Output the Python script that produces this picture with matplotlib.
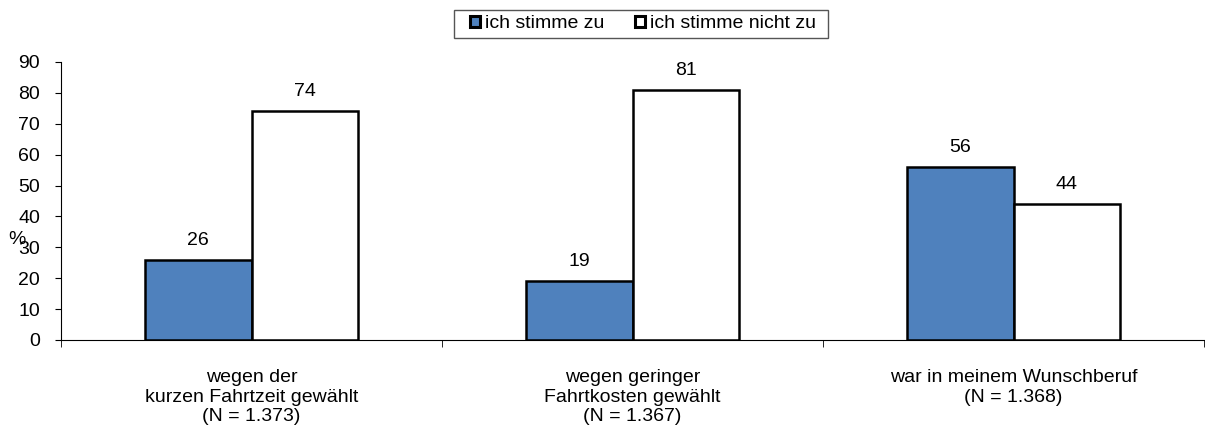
import matplotlib.pyplot as plt
from matplotlib.patches import Rectangle
import numpy as np

plt.rcParams['font.family'] = ['Liberation Sans', 'DejaVu Sans']

categories = ["wegen der\nkurzen Fahrtzeit gewählt\n(N = 1.373)",
              "wegen geringer\nFahrtkosten gewählt\n(N = 1.367)",
              "war in meinem Wunschberuf\n(N = 1.368)"]
zustimmung = [26, 19, 56]
keine_zustimmung = [74, 81, 44]
series_names = ["ich stimme zu", "ich stimme nicht zu"]
yticks = list(range(0, 100, 10))

fs = 14
W, H = 1205, 437

fig = plt.figure(figsize=(12.05, 4.37), dpi=100)
ax = fig.add_axes([61 / W, 97 / H, 1143 / W, 278 / H])

x = np.arange(len(categories))
w = 0.28
b1 = ax.bar(x - w / 2, zustimmung, w, color="#4F81BD", edgecolor="black", linewidth=1.8,
            label=series_names[0])
b2 = ax.bar(x + w / 2, keine_zustimmung, w, color="white", edgecolor="black", linewidth=1.8,
            label=series_names[1])

for bars, vals in ((b1, zustimmung), (b2, keine_zustimmung)):
    for r, v in zip(bars, vals):
        ax.annotate(str(v), (r.get_x() + r.get_width() / 2, v), xytext=(0, 8),
                    textcoords="offset points", ha="center", va="bottom", fontsize=fs)

ax.set_xlim(-0.5, len(categories) - 0.5)
ax.set_ylim(0, 90)
ax.set_yticks(yticks)
ax.tick_params(axis="y", labelsize=fs, length=4, pad=11)
ax.set_xticks(np.arange(len(categories) + 1) - 0.5, minor=True)
ax.set_xticks(x)
ax.set_xticklabels(categories, fontsize=fs, linespacing=1.2)
ax.tick_params(axis="x", which="major", length=0, pad=21)
ax.tick_params(axis="x", which="minor", length=5, direction="out")
for s in ("top", "right"):
    ax.spines[s].set_visible(False)

fig.text(17 / W, 1 - 240 / H, "%", fontsize=fs, ha="center", va="center")

# legend with a hand-placed frame, like the original box
fig.patches.append(Rectangle((454 / W, 1 - 38 / H), 374 / W, 28 / H, transform=fig.transFigure,
                             facecolor="white", edgecolor="#555555", linewidth=1.0, zorder=0))
leg = fig.legend(loc="center", bbox_to_anchor=(643 / W, 1 - 24 / H), ncol=2,
                 fontsize=fs, frameon=False,
                 handlelength=0.5, handleheight=0.5, handletextpad=0.25, columnspacing=1.6,
                 borderpad=0, borderaxespad=0)
for h in leg.legend_handles:
    h.set_linewidth(2.2)

fig.savefig("out.png", dpi=100)
